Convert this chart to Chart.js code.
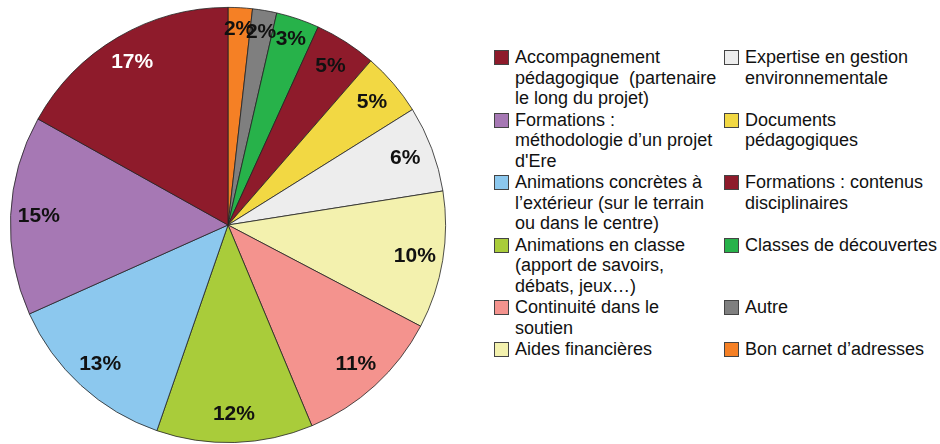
<!DOCTYPE html>
<html><head><meta charset="utf-8">
<script src="https://cdn.jsdelivr.net/npm/chart.js@4"></script>
<style>
html,body{margin:0;padding:0;background:#fff;}
#wrap{position:relative;width:940px;height:444px;overflow:hidden;}
#c{position:absolute;left:0;top:0;}
#legend{position:absolute;left:494px;top:47px;display:grid;grid-template-columns:230px 216px;row-gap:1px;font-family:"Liberation Sans",Arial,sans-serif;font-size:18px;line-height:20.5px;color:#111;}
.item{display:flex;align-items:flex-start;}
.sw{width:15px;height:15px;box-sizing:border-box;border:1px solid #444;margin-top:3px;margin-right:6px;flex:none;}
</style></head>
<body>
<div id="wrap">
<canvas id="c" width="456" height="444"></canvas>
<div id="legend"></div>
</div>
<script>
// Slices in drawing order, clockwise from 12 o'clock
const categories = [
  ["Bon carnet d\u2019adresses"],
  ["Autre"],
  ["Classes de découvertes"],
  ["Formations : contenus", "disciplinaires"],
  ["Documents", "pédagogiques"],
  ["Expertise en gestion", "environnementale"],
  ["Aides financières"],
  ["Continuité dans le", "soutien"],
  ["Animations en classe", "(apport de savoirs,", "débats, jeux\u2026)"],
  ["Animations concrètes à", "l\u2019extérieur (sur le terrain", "ou dans le centre)"],
  ["Formations :", "méthodologie d\u2019un projet", "d'Ere"],
  ["Accompagnement", "pédagogique  (partenaire", "le long du projet)"]
];
const values = [1.8, 1.8, 3.2, 4.6, 4.7, 6.4, 10.2, 11.0, 11.6, 13.0, 14.8, 16.9];
const colors = ["#F58025", "#7F7F7F", "#27B24A", "#8E1B2B", "#F2D843", "#EDEDED",
                "#F3F1AE", "#F4938E", "#A9CC3A", "#8CC8EE", "#A678B4", "#8E1B2B"];
const labelColors = ["#111","#111","#111","#111","#111","#111","#111","#111","#111","#111","#111","#fff"];

const total = values.reduce((a, b) => a + b, 0);

const pieLabels = {
  id: 'pieLabels',
  afterDatasetsDraw(chart) {
    const ctx = chart.ctx;
    const meta = chart.getDatasetMeta(0);
    ctx.save();
    ctx.font = 'bold 21px "Liberation Sans", Arial, sans-serif';
    ctx.textAlign = 'center';
    ctx.textBaseline = 'middle';
    meta.data.forEach((arc, i) => {
      const p = arc.getProps(['x', 'y', 'startAngle', 'endAngle', 'outerRadius'], true);
      const mid = (p.startAngle + p.endAngle) / 2;
      const frac = values[i] / total;
      const k = frac < 0.04 ? 0.9 : 0.87;
      const r = p.outerRadius * k;
      ctx.fillStyle = labelColors[i];
      ctx.fillText(Math.round(frac * 100) + '%', p.x + Math.cos(mid) * r, p.y + Math.sin(mid) * r);
    });
    ctx.restore();
  }
};

new Chart(document.getElementById('c'), {
  type: 'pie',
  data: {
    labels: categories,
    datasets: [{
      data: values,
      backgroundColor: colors,
      borderColor: '#222',
      borderWidth: 0.8
    }]
  },
  options: {
    responsive: false,
    devicePixelRatio: 1,
    animation: false,
    layout: { padding: { top: 7, bottom: 1, left: 0, right: 0 } },
    plugins: { legend: { display: false }, tooltip: { enabled: false } }
  },
  plugins: [pieLabels]
});

// Legend: reverse of drawing order, filled column by column (6 per column)
const legendOrder = categories.map((c, i) => i).reverse();
const legend = document.getElementById('legend');
for (let row = 0; row < 6; row++) {
  [legendOrder[row], legendOrder[row + 6]].forEach(idx => {
    const item = document.createElement('div');
    item.className = 'item';
    const sw = document.createElement('div');
    sw.className = 'sw';
    sw.style.background = colors[idx];
    const tx = document.createElement('div');
    categories[idx].forEach((line, j) => {
      if (j) tx.appendChild(document.createElement('br'));
      tx.appendChild(document.createTextNode(line));
    });
    tx.style.whiteSpace = 'pre';
    item.appendChild(sw);
    item.appendChild(tx);
    legend.appendChild(item);
  });
}
</script>
</body></html>
